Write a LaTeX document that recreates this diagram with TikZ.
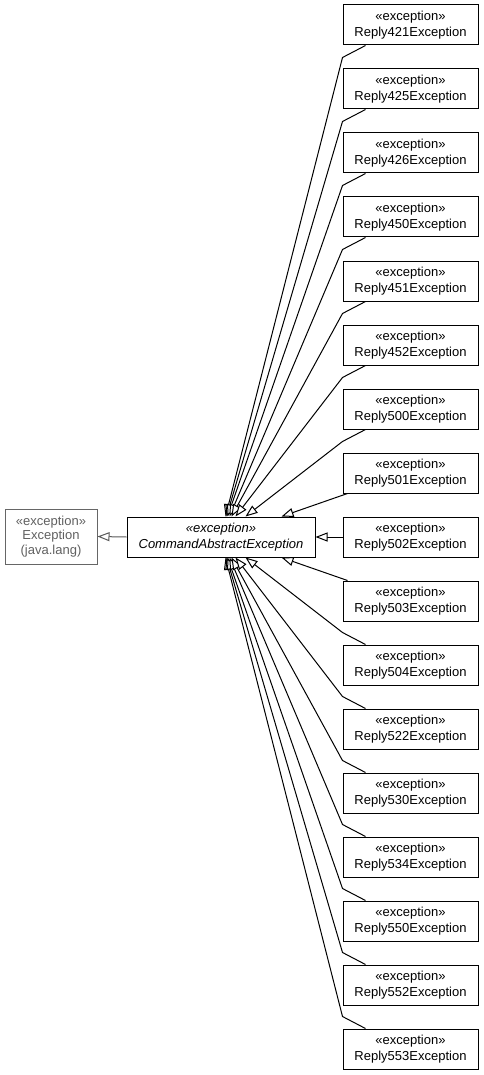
\documentclass[tikz,border=0pt]{standalone}
\usepackage{fontspec}
\setmainfont{Liberation Sans}
\usetikzlibrary{arrows.meta}
\tikzset{
  box/.style={draw, line width=1pt, minimum width=135pt, minimum height=40pt, inner sep=0pt, align=center, font=\fontsize{13}{15.5}\selectfont},
  cabox/.style={draw, line width=1pt, minimum width=188pt, minimum height=40pt, inner sep=0pt, align=center, font=\fontsize{13}{15.5}\selectfont\itshape},
  exbox/.style={draw=gray!80!black, text=gray!75!black, line width=1pt, minimum width=92pt, minimum height=55pt, inner sep=0pt, align=center, font=\fontsize{13}{14.5}\selectfont},
  inh/.style={line width=1pt, -{Triangle[open, fill=white, length=12pt, width=9pt]}},
}
\begin{document}
\begin{tikzpicture}[x=1pt,y=-1pt]
\useasboundingbox (0,0) rectangle (484,1075);
\node[exbox] (exc) at (51,536.5) {«exception»\\Exception\\(java.lang)};
\node[cabox] (cae) at (221,537) {«exception»\\CommandAbstractException};
\foreach \i/\n in {0/421,1/425,2/426,3/450,4/451,5/452,6/500,7/501,8/502,9/503,10/504,11/522,12/530,13/534,14/550,15/552,16/553}{
  \node[box] (r\i) at (410.5,{25+64*\i}) {«exception»\\Reply\n Exception};
}
\draw[inh, draw=gray!70!black] (cae.west) -- (exc.east);
% top group
\foreach \i/\t in {0/99,1/100,2/101,3/103,4/105,5/109,6/119}{
  \draw[inh] ([xshift=23pt]r\i.south west) -- ([yshift=-12pt]r\i.south west) -- ([xshift=\t pt]cae.north west);
}
\draw[inh] ([xshift=5pt]r7.south west) -- ([xshift=155pt]cae.north west);
\draw[inh] (r8.west) -- (cae.east);
\draw[inh] ([xshift=5pt]r9.north west) -- ([xshift=155pt]cae.south west);
\foreach \i/\t in {16/99,15/100,14/101,13/103,12/105,11/109,10/119}{
  \draw[inh] ([xshift=23pt]r\i.north west) -- ([yshift=12pt]r\i.north west) -- ([xshift=\t pt]cae.south west);
}
\end{tikzpicture}
\end{document}
